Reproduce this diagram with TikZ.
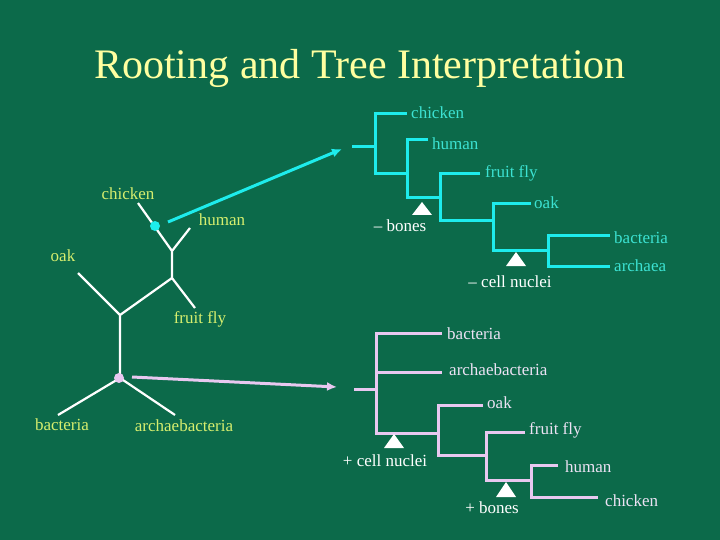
\documentclass[tikz,border=0pt]{standalone}
\usepackage{fontspec}
\setmainfont{Liberation Serif}
\usetikzlibrary{arrows.meta}
\begin{document}
\begin{tikzpicture}[x=1pt,y=-1pt,
  lab/.style={font=\fontsize{17}{20}\selectfont,inner sep=1pt},
  ul/.style={lab,text=ylab},
  cl/.style={lab,text=clab,anchor=west},
  pl/.style={lab,text=plab,anchor=west},
  wl/.style={lab,text=white},
  ub/.style={white,line width=2.2pt},
  cb/.style={cline,line width=3pt},
  pb/.style={pline,line width=3pt},
  tri/.style={fill=white,draw=none}]
\definecolor{bg}{RGB}{12,106,74}
\definecolor{ylab}{RGB}{214,238,110}
\definecolor{clab}{RGB}{60,226,210}
\definecolor{cline}{RGB}{30,236,236}
\definecolor{pline}{RGB}{232,200,240}
\definecolor{plab}{RGB}{236,226,244}
\definecolor{ttl}{RGB}{255,255,160}
\fill[bg] (0,0) rectangle (720,540);
\useasboundingbox (0,0) rectangle (720,540);
\node[text=ttl,font=\fontsize{42}{48}\selectfont] (title) at (360,68) {Rooting and Tree Interpretation};
% unrooted tree
\coordinate (tc) at (138,203); \coordinate (th) at (190,228); \coordinate (n1) at (172,251);
\coordinate (n2) at (172,278); \coordinate (tf) at (195,308); \coordinate (n3) at (120,315);
\coordinate (to) at (78,273); \coordinate (n4) at (120,378); \coordinate (tb) at (58,415); \coordinate (ta) at (175,415);
\draw[ub] (tc)--(n1) (th)--(n1) (n1)--(n2) (n2)--(tf) (n2)--(n3) (to)--(n3) (n3)--(n4) (n4)--(tb) (n4)--(ta);
\node[circle,fill=cline,inner sep=0,minimum size=10pt] (dc) at (155,226) {};
\node[circle,fill=pline,inner sep=0,minimum size=10pt] (dp) at (119,378) {};
\node[ul] (uc) at (128,194) {chicken};
\node[ul] (uh) at (222,220) {human};
\node[ul] (uo) at (63,256) {oak};
\node[ul] (uf) at (200,319) {fruit fly};
\node[ul] (ub2) at (62,425) {bacteria};
\node[ul] (ua) at (184,426) {archaebacteria};
% arrows
\coordinate (ca0) at (168,222); \coordinate (ca1) at (342,149);
\draw[cline,line width=3pt,-{Latex[length=10pt,width=9pt]}] (ca0)--(ca1);
\coordinate (pa0) at (132,377); \coordinate (pa1) at (337,387);
\draw[pline,line width=3pt,-{Latex[length=10pt,width=9pt]}] (pa0)--(pa1);
% top right tree
\draw[cb] (352,147)--(375,147) (407,114)--(375,114)--(375,174)--(407,174)
 (428,140)--(407,140)--(407,198)--(440,198)
 (480,174)--(440,174)--(440,221)--(493,221)
 (531,204)--(493,204)--(493,250)--(548,250)
 (610,235)--(548,235)--(548,266)--(610,266);
\node[cl] (c1) at (410,113) {chicken};
\node[cl] (c2) at (431,144) {human};
\node[cl] (c3) at (484,173) {fruit fly};
\node[cl] (c4) at (533,203) {oak};
\node[cl] (c5) at (613,238) {bacteria};
\node[cl] (c6) at (613,266) {archaea};
\fill[tri] (422,202)--(432,215)--(412,215)--cycle;
\node[wl] (w1) at (400,226) {-- bones};
\fill[tri] (516,252)--(526,266)--(506,266)--cycle;
\node[wl] (w2) at (510,282) {-- cell nuclei};
% bottom right tree
\draw[pb] (354,389)--(376,389) (442,333)--(376,333)--(376,433)--(438,433)
 (376,372)--(442,372)
 (483,405)--(438,405)--(438,455)--(486,455)
 (525,432)--(486,432)--(486,480)--(531,480)
 (558,465)--(531,465)--(531,497)--(598,497);
\node[pl] (p1) at (446,334) {bacteria};
\node[pl] (p2) at (448,370) {archaebacteria};
\node[pl] (p3) at (486,403) {oak};
\node[pl] (p4) at (528,430) {fruit fly};
\node[pl] (p5) at (564,467) {human};
\node[pl] (p6) at (604,501) {chicken};
\fill[tri] (394,434)--(404,448)--(384,448)--cycle;
\node[wl] (w3) at (385,461) {+ cell nuclei};
\fill[tri] (506,482)--(516,497)--(496,497)--cycle;
\node[wl] (w4) at (492,508) {+ bones};
\end{tikzpicture}
\end{document}
